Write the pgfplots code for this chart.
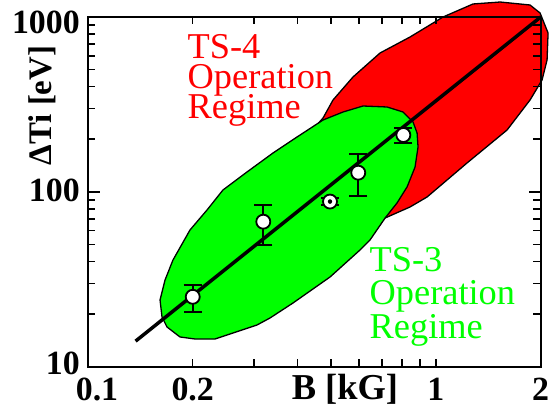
\documentclass[border=0pt]{standalone}
\usepackage{fontspec}
\setmainfont{Liberation Serif}
\usepackage{pgfplots}
\pgfplotsset{compat=1.18}
\definecolor{tsred}{RGB}{255,0,0}
\definecolor{tsgreen}{RGB}{0,255,0}
\newcommand{\redfont}{\fontsize{36.5}{30.5}\selectfont\lineskiplimit=-100pt\relax}
\newcommand{\greenfont}{\fontsize{36.5}{33.7}\selectfont\lineskiplimit=-100pt\relax}
\begin{document}
\begin{tikzpicture}
\begin{axis}[
  xmode=log, ymode=log,
  xmin=0.1, xmax=2, ymin=10, ymax=1000,
  scale only axis, width=452.7bp, height=349.7bp,
  clip=false, axis on top,
  axis line style={line width=2bp},
  tick style={line width=1.5bp, black},
  major tick length=12bp, minor tick length=7.5bp,
  xtick={0.1,0.2,1,2},
  xticklabels={\hspace*{18bp}0.1,0.2,1,2},
  minor xtick={0.2,0.3,0.4,0.5,0.6,0.7,0.8,0.9,1},
  major x tick style={draw=none},
  ytick={10,100,1000},
  yticklabels={\raisebox{-8.3bp}{10},\raisebox{-9.7bp}{100},\raisebox{-16.3bp}{1000}},
  minor ytick={20,30,40,50,60,70,80,90,200,300,400,500,600,700,800,900},
  ticklabel style={font=\fontsize{34}{40}\selectfont\bfseries, inner sep=0pt},
  xticklabel style={anchor=base, yshift=-34bp},
  yticklabel style={anchor=base east, xshift=-8bp},
  xlabel={B [kG]},
  ylabel={ΔTi [eV]},
  xlabel style={at={(axis description cs:0.5677,0)}, anchor=base, yshift=-33.3bp, font=\fontsize{36.6}{40}\selectfont\bfseries, inner sep=0pt},
  ylabel style={at={(axis description cs:-0.0802,0.747)}, anchor=base, font=\fontsize{33}{40}\selectfont\bfseries, inner sep=0pt},
]
% TS-4 operation regime
\addplot[fill=tsred, draw=black, line width=1.3bp] coordinates {
 (0.4737,264.5) (0.5060,335.2) (0.5776,453.9) (0.6908,622.5) (0.8424,768.6)
 (1.048,1000) (1.278,1187) (1.529,1218) (1.864,1171) (1.992,1054)
 (2.100,810.1) (2.086,567.6) (2.018,436.3) (1.864,335.2) (1.601,225.8)
 (1.228,146.2) (0.9428,93.43) (0.8424,81.92) (0.7143,70.86) (0.5479,58.93)
 (0.4068,53.04) (0.3447,60.50) (0.3335,89.81) (0.3682,142.4) (0.4290,211.4)
} -- cycle;
% TS-3 operation regime
\addplot[fill=tsgreen, draw=black, line width=1.3bp] coordinates {
 (0.1611,24.07) (0.1665,31.32) (0.1755,40.76) (0.1964,60.50) (0.2198,78.74)
 (0.2443,102.5) (0.2864,129.9) (0.3402,166.8) (0.3988,205.9) (0.4737,257.5)
 (0.5408,286.2) (0.6173,309.7) (0.7237,305.7) (0.8042,286.2) (0.8593,250.8)
 (0.8826,217.1) (0.8882,180.5) (0.8708,138.7) (0.8259,106.6) (0.7730,86.34)
 (0.7143,70.86) (0.6464,53.04) (0.6050,46.50) (0.4961,32.58) (0.3884,23.14)
 (0.3335,18.99) (0.3060,17.32) (0.2317,14.40) (0.2030,14.40) (0.1838,14.79)
 (0.1687,16.87) (0.1632,19.24)
} -- cycle;
% scaling line
\addplot[black, line width=3.5bp] coordinates {(0.137,14.0) (2,1000)};
% measurements
\addplot[only marks, mark=*, mark size=7bp,
  mark options={fill=white, draw=black, line width=1.8bp},
  error bars/.cd, y dir=both, y explicit,
  error bar style={line width=1.8bp, black},
  error mark options={rotate=90, mark size=9bp, line width=1.8bp, black}]
 coordinates {
 (0.2,25.1) += (0,4.2) -= (0,4.5)
 (0.319,67.5) += (0,16.6) -= (0,17.8)
 (0.496,88) += (0,4) -= (0,4)
 (0.598,128.7) += (0,36) -= (0,34)
 (0.806,211.4) += (0,19.5) -= (0,20.4)
};
\addplot[only marks, mark=none,
  error bars/.cd, y dir=both, y explicit,
  error bar style={line width=1.5bp, black},
  error mark options={rotate=90, mark size=6bp, line width=1.5bp, black}]
 coordinates {(0.496,88) += (0,4) -= (0,4)};
\node[anchor=base west, align=left, text=tsred, inner sep=0pt, font=\redfont]
  at (axis description cs:0.2198,0.7083) {TS-4\\Operation\\Regime};
\node[anchor=base west, align=left, text=tsgreen, inner sep=0pt, font=\greenfont]
  at (axis description cs:0.6218,0.0806) {TS-3\\Operation\\Regime};
\end{axis}
\path ([xshift=-88bp,yshift=-48.3bp]current axis.south west) rectangle ([xshift=12.3bp,yshift=17bp]current axis.north east);
\end{tikzpicture}
\end{document}
